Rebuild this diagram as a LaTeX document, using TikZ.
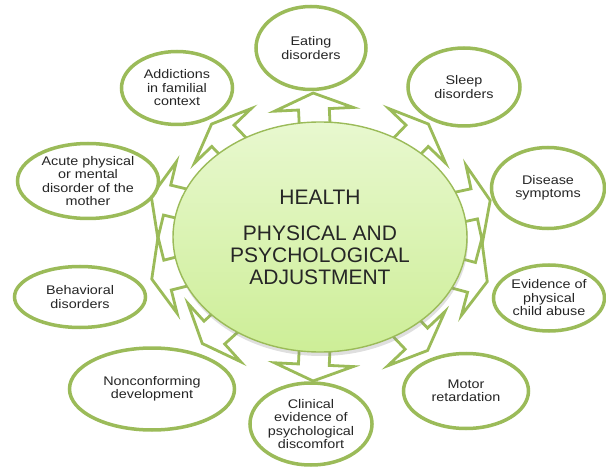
\documentclass[tikz,border=0pt]{standalone}
\usepackage{fontspec}
\setmainfont{Liberation Sans}
\newfontfamily\satfont[FakeStretch=1.15]{Liberation Sans}
\usepackage{tikz}
\usetikzlibrary{shapes,shapes.arrows,backgrounds,calc,shadows}
\definecolor{leaf}{HTML}{9BBB59}
\definecolor{hubtop}{HTML}{E8F8CF}
\definecolor{hubbot}{HTML}{CDEE97}
\definecolor{ink}{HTML}{262626}
\tikzset{
    hub/.style={ellipse,draw=leaf,line width=1.4pt,top color=hubtop,bottom color=hubbot,
                minimum width=294pt,minimum height=230pt,align=center,text=ink,
                font=\fontsize{21}{22}\selectfont,
                drop shadow={opacity=0.25,shadow xshift=1pt,shadow yshift=-4pt}},
    sat/.style={ellipse,draw=leaf,line width=3.5pt,fill=white,align=center,text=ink,
                inner sep=0pt,font=\satfont\fontsize{12.5}{13.5}\selectfont},
    blkarrow/.style={single arrow,draw=leaf,line width=2.8pt,fill=white,
                     inner xsep=0pt,inner ysep=14pt,minimum width=0pt,minimum height=37pt,
                     single arrow head extend=24pt,single arrow tip angle=135,
                     anchor=tail,sloped,allow upside down},
}
\begin{document}
\begin{tikzpicture}[x=1pt,y=-1pt]
    \useasboundingbox (0,0) rectangle (606,468);

    % ---- centre ----
    \node[hub] (hub) at (320,237)
        {HEALTH\\[14pt]PHYSICAL AND\\PSYCHOLOGICAL\\ADJUSTMENT};

    % ---- outer ring ----
    \node[sat,minimum width=110pt,minimum height=83pt] (eat)     at (311,48)  {Eating\\disorders};
    \node[sat,minimum width=112pt,minimum height=78pt] (sleep)   at (464,87)  {Sleep\\disorders};
    \node[sat,minimum width=113pt,minimum height=81pt] (disease) at (548,188) {Disease\\symptoms};
    \node[sat,minimum width=111pt,minimum height=66pt] (abuse)   at (549,298) {Evidence of\\physical\\child abuse};
    \node[sat,minimum width=125pt,minimum height=75pt] (motor)   at (466,391) {Motor\\retardation};
    \node[sat,minimum width=105pt,minimum height=82pt] (clinic)  at (311,424) {Clinical\\evidence of\\psychological\\discomfort};
    \node[sat,minimum width=165pt,minimum height=82pt] (noncon)  at (152,389) {Nonconforming\\development};
    \node[sat,minimum width=131pt,minimum height=61pt] (behav)   at (80,297)  {Behavioral\\disorders};
    \node[sat,minimum width=141pt,minimum height=75pt] (acute)   at (88,181)  {Acute physical\\or mental\\disorder of the\\mother};
    \node[sat,minimum width=111pt,minimum height=73pt] (addict)  at (177,88)  {Addictions\\in familial\\context};

    % ---- arrows (behind the centre) ----
    \begin{scope}[on background layer]
        \foreach \s in {eat,sleep,disease,abuse,motor,clinic,noncon,behav,acute,addict}{
            \path (hub) -- (\s) coordinate[pos=0] (rim);
            \path ($(rim)!-10pt!(\s)$) -- (\s) node[pos=0,blkarrow] (arr-\s) {};
        }
    \end{scope}

\end{tikzpicture}
\end{document}
